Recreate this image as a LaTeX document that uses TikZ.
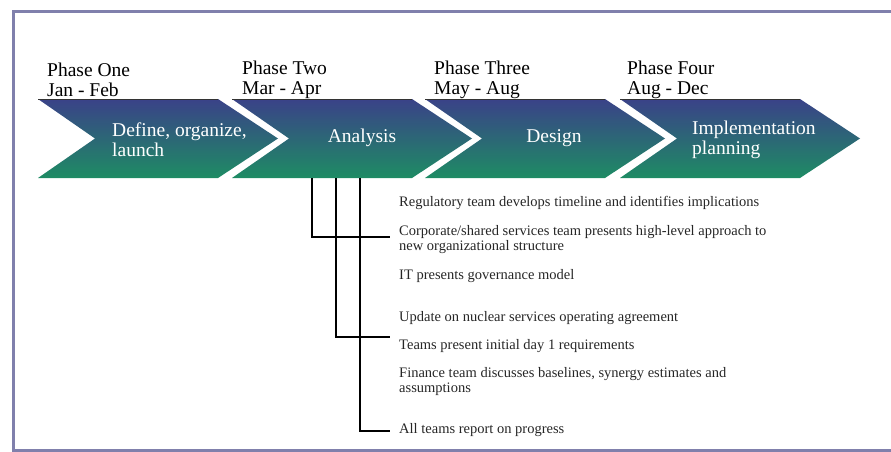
\documentclass[tikz,border=0pt]{standalone}
\usepackage{fontspec}
\setmainfont{Liberation Serif}
\usepackage{tikz}
\usetikzlibrary{positioning}

\definecolor{chevtop}{RGB}{58,66,136}
\definecolor{chevmid}{RGB}{52,120,152}
\definecolor{chevbot}{RGB}{30,140,100}
\definecolor{framecol}{RGB}{128,128,172}

\tikzset{
  phase/.style={anchor=west, align=left, inner sep=0pt, font=\fontsize{19.5}{19.5}\selectfont},
  chevtext/.style={text=white, align=left, inner sep=0pt, font=\fontsize{19.5}{20}\selectfont},
  item/.style={anchor=west, align=left, inner sep=0pt, text=black!85, font=\fontsize{14.5}{15}\selectfont},
  link/.style={line width=2pt},
}

\begin{document}
\begin{tikzpicture}[x=1pt, y=-1pt]
  \useasboundingbox (0,0) rectangle (891,452);
  \draw [framecol, line width=3pt] (900,12) -- (13,12) -- (13,450) -- (900,450);
  % the four phase arrows
  \foreach \x in {38,232,425,620} {
    \shade [top color=chevtop, middle color=chevmid, bottom color=chevbot]
      (\x,99) -- ++(180,0) -- ++(60,39.5) -- ++(-60,39.5) -- ++(-180,0) -- ++(57,-39.5) -- cycle;
    \draw [black!80, line width=1pt] (\x,99) -- ++(180,0);
  }
  \node [phase] (P1) at (47, 80) {Phase One\\Jan - Feb};
  \node [phase] (P2) at (242, 80) {Phase Two\\Mar - Apr};
  \node [phase] (P3) at (434, 80) {Phase Three\\May - Aug};
  \node [phase] (P4) at (627, 80) {Phase Four\\Aug - Dec};
  \node [chevtext, anchor=west] (C1) at (112, 140) {Define, organize,\\launch};
  \node [chevtext] (C2) at (362, 138) {Analysis};
  \node [chevtext] (C3) at (554, 138) {Design};
  \node [chevtext, anchor=west] (C4) at (692, 140) {Implementation\\planning};
  % activities
  \node [item] (T1) at (399, 203) {Regulatory team develops timeline and identifies implications};
  \node [item] (T2) at (399, 239.5) {Corporate/shared services team presents high-level approach to\\new organizational structure};
  \node [item] (T3) at (399, 276) {IT presents governance model};
  \node [item] (T4) at (399, 318) {Update on nuclear services operating agreement};
  \node [item] (T5) at (399, 346) {Teams present initial day 1 requirements};
  \node [item] (T6) at (399, 382) {Finance team discusses baselines, synergy estimates and\\assumptions};
  \node [item] (T7) at (399, 430) {All teams report on progress};
  \coordinate (B1) at (312, 178);
  \coordinate (B2) at (336, 178);
  \coordinate (B3) at (360, 178);
  \coordinate (E1) at (390, 237);
  \coordinate (E2) at (390, 337);
  \coordinate (E3) at (390, 431);
  \draw [link] (B1) |- (E1);
  \draw [link] (B2) |- (E2);
  \draw [link] (B3) |- (E3);
\end{tikzpicture}
\end{document}
